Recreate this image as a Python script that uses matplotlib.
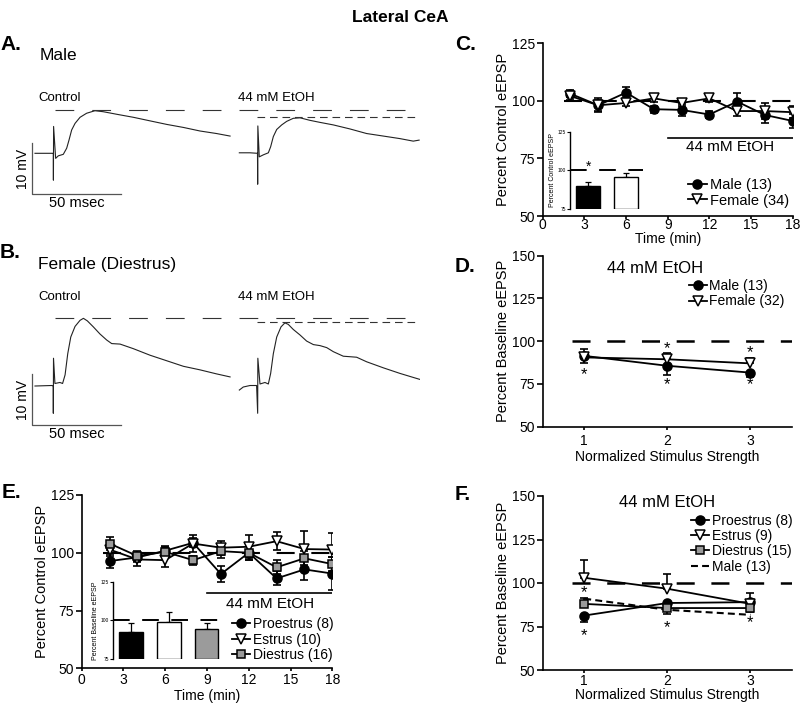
import numpy as np
import matplotlib.pyplot as plt

plt.rcParams['font.family'] = ['Liberation Sans', 'DejaVu Sans']
plt.rcParams['lines.scale_dashes'] = False
plt.rcParams['axes.linewidth'] = 1.2

W, H = 800, 706
GRAY = '#9b9b9b'

# ---------------- traces (ms, mV) ----------------
a_ctrl_t = [0, 10.3, 10.35, 10.45, 11.6, 13.1, 15.9, 17.8, 19.1, 20.6, 22.5, 25.3, 29.0, 33.7,
            38.4, 45.9, 55.3, 64.6, 74.0, 83.4, 92.7, 102.0, 109.6]
a_ctrl_v = [0, 0, -5.3, 5.3, -1.0, -0.5, -0.2, 1.0, 2.6, 4.6, 5.9, 7.1, 7.9, 8.4,
            8.2, 7.7, 7.1, 6.4, 5.7, 5.1, 4.4, 3.9, 3.4]
a_etoh_t = [0, 6.0, 10.2, 10.3, 10.4, 11.2, 13.5, 16.3, 17.6, 19.1, 21.0, 23.8, 26.6, 30.3,
            34.1, 39.7, 45.3, 52.8, 62.2, 71.5, 80.9, 90.2, 97.7, 101.0]
a_etoh_v = [0.1, 0.1, 0, -6.1, 5.4, -0.7, -0.3, 0.1, 1.3, 3.3, 4.7, 5.6, 6.3, 6.9,
            7.0, 6.5, 6.1, 5.6, 4.8, 3.9, 3.4, 2.9, 2.4, 2.6]
b_ctrl_t = [0, 9.4, 10.25, 10.3, 10.4, 11.2, 14.0, 15.5, 16.9, 18.4, 20.1, 22.5, 25.3, 27.2,
            29.4, 32.8, 36.5, 40.3, 43.1, 47.8, 55.2, 64.6, 74.0, 83.4, 92.7, 102.0, 109.6]
b_ctrl_v = [0, 0.1, 0, -5.4, 5.5, 0.5, 0.7, 0.5, 2.2, 6.4, 9.7, 11.8, 13.0, 13.4,
            12.9, 11.7, 10.3, 9.1, 8.4, 8.3, 7.4, 6.1, 5.0, 3.9, 3.2, 2.4, 1.8]
b_etoh_t = [0, 2.2, 6.0, 9.7, 10.3, 10.4, 11.6, 14.4, 16.3, 17.6, 19.1, 21.0, 23.4, 25.6,
            27.5, 30.3, 34.1, 37.8, 41.6, 45.3, 49.1, 52.8, 58.4, 62.2, 65.9, 71.5, 80.9,
            90.2, 97.7, 101.5]
b_etoh_v = [-0.8, -0.2, 0.1, 0.1, -5.4, 5.5, 0.4, 0.7, 0.4, 2.5, 6.4, 9.7, 11.7, 12.5,
            12.2, 11.2, 10.1, 8.9, 8.2, 8.0, 7.6, 6.8, 5.9, 5.8, 5.7, 4.8, 3.6,
            2.5, 1.7, 1.3]
etoh_offset = 114.8          # ms, horizontal shift of the EtOH trace
a_peaks = [8.57, 7.13]
b_peaks = [13.4, 12.7]

# ---------------- C ----------------
time_min = [2, 4, 6, 8, 10, 12, 14, 16, 18]
c_male = [103, 98, 103.5, 96.3, 96, 94, 99.6, 93.8, 91.2]
c_male_err = [1.5, 2.5, 2.3, 1.5, 2.6, 1.5, 3.6, 3.4, 3.0]
c_female = [102, 98, 99, 101, 99, 101, 95.5, 95.5, 95]
c_female_err = [1.5, 3.0, 1.5, 1.5, 1.5, 1.5, 2.0, 3.6, 2.5]
c_bar = [90, 95.7]
c_bar_err = [2.5, 2.5]

# ---------------- D ----------------
stim = [1, 2, 3]
d_male = [91.4, 85.6, 81.6]
d_male_err = [[0, 5.3, 2.6], [4.3, 0, 0]]
d_female = [90.5, 89.4, 87]
d_female_err = [[3.5, 0, 0], [0, 3.8, 3.0]]
d_stars = [(1, 80.5), (2, 95.5), (2, 74.5), (3, 93.5), (3, 74.5)]

# ---------------- E ----------------
e_pro = [96.4, 98, 100.9, 104.3, 90.8, 100, 88.9, 92.8, 91]
e_pro_err = [3, 2, 2, 2, 3.5, 3, 3, 4.5, 7]
e_est = [101.4, 97.1, 96.8, 104, 102.2, 102.6, 105, 101.6, 101.4]
e_est_err = [3, 3, 3, 3.5, 3, 5, 4, 8, 7]
e_die = [104, 98.6, 100.4, 96.8, 100.7, 100, 93.7, 97.6, 95.1]
e_die_err = [3, 2, 2, 2, 3, 3, 3, 3, 3]
e_bar = [92.5, 98.9, 94.7]
e_bar_err = [5.8, 6.4, 3.6]

# ---------------- F ----------------
f_pro = [81.3, 88.5, 89]
f_pro_err = [[4, 1.5, 0], [0, 0, 5.2]]
f_est = [103, 96.7, 88]
f_est_err = [[0, 0, 0], [10, 8.7, 2]]
f_die = [88, 85.6, 85.6]
f_die_err = [[0, 3.3, 2], [3.5, 0, 0]]
f_male = [91, 84.6, 81.7]
f_stars = [(1, 94.5), (1, 69.5), (2, 74.5), (3, 77)]


def box(x0, y0, x1, y1):
    return [x0 / W, 1 - y1 / H, (x1 - x0) / W, (y1 - y0) / H]


def ftext(x, y, s, **kw):
    fig.text(x / W, 1 - y / H, s, **kw)


def style(ax, xpad):
    for s in ['top', 'right']:
        ax.spines[s].set_visible(False)
    ax.tick_params(direction='out', width=1.2, labelsize=10)
    ax.tick_params(axis='y', length=4, pad=1.5)
    ax.tick_params(axis='x', length=2.5, pad=xpad)


fig = plt.figure(figsize=(8, 7.06), dpi=100)

ftext(400, 17, 'Lateral CeA', ha='center', va='center', fontsize=12.5, fontweight='bold')
for lab, x, y in [('A.', 0, 45), ('B.', 0, 252), ('C.', 455, 44), ('D.', 455, 266),
                  ('E.', 2, 493), ('F.', 455, 494)]:
    ftext(x, y, lab, ha='left', va='center', fontsize=15, fontweight='bold')
ftext(40, 55, 'Male', ha='left', va='center', fontsize=12.5)
ftext(38, 265, 'Female (Diestrus)', ha='left', va='center', fontsize=12.5)


# ---------------- A and B traces ----------------
def trace_panel(rect, ylim, ct, cv, et, ev, peaks, sb_y, lab_y):
    ax = fig.add_axes(rect)
    ax.set_xlim(-19.66, 216.3)
    ax.set_ylim(*ylim)
    ax.axis('off')
    ax.plot(ct, cv, color='#222222', lw=0.8)
    ax.plot(np.add(et, etoh_offset), ev, color='#222222', lw=0.8)
    ax.plot([11.2, 209.6], [peaks[0], peaks[0]], color='#333333', lw=0.8, dashes=(13.5, 13))
    ax.plot([124.5, 216.3], [peaks[1], peaks[1]], color='#333333', lw=0.8, dashes=(5.5, 3.5))
    # scale bar
    ax.plot([-1.85, -1.85, 48.15], [sb_y + 10, sb_y, sb_y], color='#555555', lw=0.9)
    ax.text(-6.7, sb_y + 5, '10 mV', rotation=90, ha='center', va='center', fontsize=10)
    ax.text(23.6, sb_y - 1.8, '50 msec', ha='center', va='center', fontsize=10.5)
    ax.text(2.0, lab_y, 'Control', ha='left', va='center', fontsize=9.5)
    ax.text(113.8, lab_y, '44 mM EtOH', ha='left', va='center', fontsize=9.5)
    return ax


trace_panel(box(0, 95, 420, 215), (-12.17, 11.5), a_ctrl_t, a_ctrl_v, a_etoh_t, a_etoh_v,
            a_peaks, -8.03, 11.0)
trace_panel(box(0, 300, 420, 445), (-11.68, 17.03), b_ctrl_t, b_ctrl_v, b_etoh_t, b_etoh_v,
            b_peaks, -7.72, 17.6)


def series(ax, x, y, err, marker, mfc, ms, label, capsize=3):
    ax.errorbar(x, y, yerr=err, fmt='none', ecolor='black', elinewidth=1.2,
                capsize=capsize, capthick=1.2, zorder=2)
    h, = ax.plot(x, y, color='black', lw=1.3, marker=marker, ms=ms, mfc=mfc,
                 mec='black', mew=1.1, label=label, zorder=3)
    return h


def inset(rect, vals, errs, colors, xlim, ylabel, star=None):
    ai = fig.add_axes(rect)
    xs = np.arange(len(vals))
    ai.bar(xs, np.subtract(vals, 75), bottom=75, width=0.63, color=colors,
           edgecolor='black', linewidth=1.0, zorder=2)
    ai.errorbar(xs, vals, yerr=[np.zeros(len(vals)), errs], fmt='none', ecolor='black',
                elinewidth=0.9, capsize=2, capthick=0.9, zorder=1)
    ai.plot(list(xlim), [100, 100], color='black', lw=1.4, dashes=(12, 9), zorder=0)
    ai.set_xlim(*xlim)
    ai.set_ylim(75, 125)
    ai.set_yticks([75, 100, 125])
    for s in ['top', 'right', 'bottom']:
        ai.spines[s].set_visible(False)
    ai.spines['left'].set_linewidth(1.0)
    ai.set_xticks([])
    ai.tick_params(axis='y', direction='out', length=2, width=0.8, labelsize=3.5, pad=1)
    ai.set_ylabel(ylabel, fontsize=5, labelpad=1)
    ai.patch.set_alpha(0)
    if star:
        ai.text(star[0], star[1], '*', ha='center', va='center', fontsize=10)
    return ai


leg_kw = dict(frameon=False, handlelength=1.3, handletextpad=0.2, labelspacing=0.1,
              borderpad=0.2)

# ---------------- C ----------------
axC = fig.add_axes(box(542.7, 43, 792.7, 216))
style(axC, -1.0)
axC.plot([1.5, 18], [100, 100], color='black', lw=1.5, dashes=(13, 12), zorder=1)
h1 = series(axC, time_min, c_male, c_male_err, 'o', 'black', 6.5, 'Male (13)')
h2 = series(axC, time_min, c_female, c_female_err, 'v', 'white', 7.5, 'Female (34)')
axC.plot([9, 18], [83.6, 83.6], color='black', lw=1.2)
axC.text(13.5, 79.7, '44 mM EtOH', ha='center', va='center', fontsize=11)
axC.set_xlim(0, 18)
axC.set_ylim(50, 125)
axC.set_xticks(range(0, 19, 3))
axC.set_yticks([50, 75, 100, 125])
axC.set_xlabel('Time (min)', fontsize=10, labelpad=0)
axC.set_ylabel('Percent Control eEPSP', fontsize=10.5, labelpad=1)
axC.legend(handles=[h1, h2], loc='lower right', bbox_to_anchor=(1.025, -0.01),
           fontsize=10.5, **leg_kw)
inset(box(570, 131.7, 643, 209), c_bar, c_bar_err, ['black', 'white'], (-0.485, 1.45),
      'Percent Control eEPSP', star=(0, 102))

# ---------------- D ----------------
axD = fig.add_axes(box(542.7, 255.6, 792, 426.7))
style(axD, 3.0)
axD.plot([0.85, 3.5], [100, 100], color='black', lw=1.8, dashes=(13, 12), zorder=1)
h1 = series(axD, stim, d_male, d_male_err, 'o', 'black', 6.5, 'Male (13)')
h2 = series(axD, stim, d_female, d_female_err, 'v', 'white', 7.5, 'Female (32)')
for x, y in d_stars:
    axD.text(x, y, '*', ha='center', va='center', fontsize=12)
axD.text(1.85, 142.5, '44 mM EtOH', ha='center', va='center', fontsize=12)
axD.set_xlim(0.5, 3.5)
axD.set_ylim(50, 150)
axD.set_xticks(stim)
axD.set_yticks([50, 75, 100, 125, 150])
axD.set_xlabel('Normalized Stimulus Strength', fontsize=10, labelpad=1)
axD.set_ylabel('Percent Baseline eEPSP', fontsize=10.5, labelpad=1)
axD.legend(handles=[h1, h2], loc='upper right', bbox_to_anchor=(1.01, 0.92),
           fontsize=10, **leg_kw)

# ---------------- E ----------------
axE = fig.add_axes(box(81.7, 495, 332.3, 668.3))
style(axE, 1.0)
axE.plot([1.5, 18], [100, 100], color='black', lw=1.5, dashes=(13, 12), zorder=1)
h1 = series(axE, time_min, e_pro, e_pro_err, 'o', 'black', 6.5, 'Proestrus (8)')
h2 = series(axE, time_min, e_est, e_est_err, 'v', 'white', 7.5, 'Estrus (10)')
h3 = series(axE, time_min, e_die, e_die_err, 's', GRAY, 6, 'Diestrus (16)')
axE.plot([9, 18], [82.7, 82.7], color='black', lw=1.2)
axE.text(13.5, 77.8, '44 mM EtOH', ha='center', va='center', fontsize=11)
axE.set_xlim(0, 18)
axE.set_ylim(50, 125)
axE.set_xticks(range(0, 19, 3))
axE.set_yticks([50, 75, 100, 125])
axE.set_xlabel('Time (min)', fontsize=10, labelpad=1)
axE.set_ylabel('Percent Control eEPSP', fontsize=10.5, labelpad=1)
axE.legend(handles=[h1, h2, h3], loc='lower right', bbox_to_anchor=(1.045, -0.02),
           fontsize=10, **leg_kw)
inset(box(113.3, 581.7, 220.5, 659), e_bar, e_bar_err, ['black', 'white', GRAY],
      (-0.477, 2.37), 'Percent Baseline eEPSP')

# ---------------- F ----------------
axF = fig.add_axes(box(542.7, 496, 792, 670))
style(axF, 0.5)
axF.plot([0.85, 3.5], [100, 100], color='black', lw=1.8, dashes=(13, 12), zorder=1)
h1 = series(axF, stim, f_pro, f_pro_err, 'o', 'black', 6.5, 'Proestrus (8)')
h2 = series(axF, stim, f_est, f_est_err, 'v', 'white', 7.5, 'Estrus (9)')
h3 = series(axF, stim, f_die, f_die_err, 's', GRAY, 6, 'Diestrus (15)')
h4, = axF.plot(stim, f_male, color='black', lw=1.5, dashes=(5, 3), label='Male (13)', zorder=2)
for x, y in f_stars:
    axF.text(x, y, '*', ha='center', va='center', fontsize=12)
axF.text(2.0, 146, '44 mM EtOH', ha='center', va='center', fontsize=12)
axF.set_xlim(0.5, 3.5)
axF.set_ylim(50, 150)
axF.set_xticks(stim)
axF.set_yticks([50, 75, 100, 125, 150])
axF.set_xlabel('Normalized Stimulus Strength', fontsize=10, labelpad=0)
axF.set_ylabel('Percent Baseline eEPSP', fontsize=10.5, labelpad=1)
axF.legend(handles=[h1, h2, h3, h4], loc='upper right', bbox_to_anchor=(1.04, 0.955),
           fontsize=10, **leg_kw)

fig.savefig('out.png', dpi=100)
